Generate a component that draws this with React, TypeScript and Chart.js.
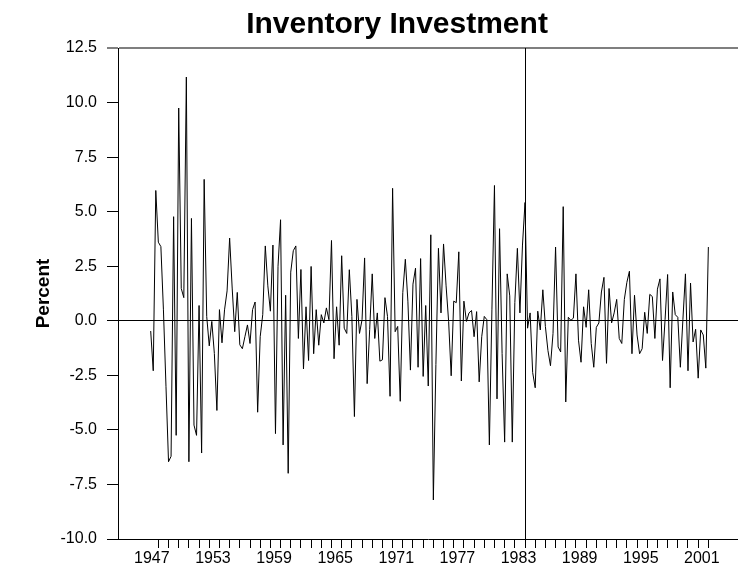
import React, { useEffect, useRef } from "react";
import { Chart, registerables } from "chart.js";

Chart.register(...registerables);

// Quarterly inventory investment (percent), first observation 1947 Q2
const START_YEAR = 1947;
const START_QUARTER = 2;
const inventoryInvestment: number[] = [
  -0.47, -2.29, 5.97, 3.6, 3.4, 0.5, -3.0, -6.46, -6.21, 4.77,
  -5.25, 9.75, 1.48, 1.06, 11.17, -6.46, 4.69, -4.78, -5.25, 0.7,
  -6.06, 6.48, 0.2, -1.15, -0.03, -1.5, -4.11, 0.51, -1.01, 0.5,
  1.37, 3.79, 1.5, -0.5, 1.3, -1.1, -1.28, -0.73, -0.19, -1.04,
  0.51, 0.86, -4.19, -0.73, 0.28, 3.43, 1.6, 0.44, 3.47, -5.17,
  2.5, 4.63, -5.69, 1.17, -6.99, 2.23, 3.21, 3.43, -0.81, 2.35,
  -2.21, 0.64, -1.82, 2.49, -1.51, 0.51, -1.12, 0.28, -0.1, 0.59,
  0.05, 3.68, -1.74, 0.64, -1.12, 2.98, -0.34, -0.58, 2.34, 0.2,
  -4.39, 0.98, -0.58, 0.05, 2.88, -2.88, -0.4, 2.15, -0.81, 0.36,
  -1.85, -1.79, 1.06, 0.2, -3.46, 6.07, -0.5, -0.26, -3.69, 1.29,
  2.82, 0.9, -2.26, 1.68, 2.41, -2.13, 2.85, -2.55, 0.7, -2.99,
  3.94, -8.21, -2.0, 3.32, 0.36, 3.52, 1.6, -0.03, -2.52, 0.9,
  0.83, 3.16, -2.76, 0.9, -0.03, 0.36, 0.47, -0.73, 0.42, -2.8,
  -0.73, 0.2, 0.05, -5.69, 0.5, 6.2, -3.58, 4.22, -1.5, -5.56,
  2.15, 1.14, -5.56, 0.83, 3.32, 0.36, 3.47, 5.42, -0.34, 0.36,
  -2.37, -3.07, 0.44, -0.42, 1.42, -0.26, -1.36, -2.06, -0.58, 3.38,
  -1.2, -1.43, 5.23, -3.72, 0.16, 0.02, 0.12, 2.15, -0.89, -1.9,
  0.64, -0.3, 1.42, -1.04, -2.13, -0.3, -0.1, 1.32, 1.99, -1.95,
  1.48, -0.1, 0.36, 0.98, -0.81, -1.04, 0.98, 1.76, 2.27, -1.51,
  1.17, -0.65, -1.51, -1.28, 0.39, -0.58, 1.21, 1.11, -0.81, 1.45,
  1.92, -1.82, 0.05, 2.12, -3.07, 1.32, 0.28, 0.16, -2.13, 0.05,
  2.15, -2.29, 1.73, -0.97, -0.39, -2.63, -0.42, -0.65, -2.17, 3.38,
];

const yTicks = [-10, -7.5, -5, -2.5, 0, 2.5, 5, 7.5, 10, 12.5];
const yearTickFirst = 1948;
const yearTickLast = 2002;
const labelYears = [1947, 1953, 1959, 1965, 1971, 1977, 1983, 1989, 1995, 2001];
const breakYear = 1984;
const xMin = 1944.04;
const xMax = 2004.91;
const TITLE = "Inventory Investment";
const Y_TITLE = "Percent";

const FONT = '"Liberation Sans", Arial, Helvetica, sans-serif';

export default function App() {
  const ref = useRef<HTMLCanvasElement | null>(null);

  useEffect(() => {
    document.body.style.margin = "0";
    const canvas = ref.current;
    if (!canvas) return;

    const points = inventoryInvestment.map((v, i) => ({
      x: START_YEAR + (START_QUARTER - 1) / 4 + i / 4,
      y: v,
    }));

    const titlePlugin = {
      id: "plotTitle",
      afterDraw(chart: any) {
        const ctx = chart.ctx;
        ctx.save();
        ctx.font = `bold 30px ${FONT}`;
        ctx.fillStyle = "#000";
        ctx.textAlign = "center";
        ctx.textBaseline = "alphabetic";
        ctx.fillText(TITLE, 397, 33);
        ctx.restore();
      },
    };

    const chart = new Chart(canvas, {
      type: "line",
      data: {
        datasets: [
          {
            data: points,
            borderColor: "#000",
            borderWidth: 1,
            pointRadius: 0,
            tension: 0,
            fill: false,
          },
        ],
      },
      options: {
        animation: false,
        responsive: false,
        maintainAspectRatio: false,
        devicePixelRatio: 1,
        layout: { padding: { top: 48, left: 0, right: 0, bottom: 0 } },
        plugins: {
          legend: { display: false },
          title: { display: false },
          tooltip: { enabled: false },
        },
        scales: {
          x: {
            type: "linear",
            min: xMin,
            max: xMax,
            afterBuildTicks: (scale: any) => {
              const t = [];
              for (let y = yearTickFirst; y <= yearTickLast; y++) t.push({ value: y });
              scale.ticks = t;
            },
            afterFit: (scale: any) => {
              scale.height = 31;
            },
            ticks: {
              autoSkip: false,
              maxRotation: 0,
              minRotation: 0,
              labelOffset: -6.5,
              padding: 1,
              color: "#000",
              font: { family: FONT, size: 16 },
              callback: (value: any) =>
                labelYears.includes(Number(value) - 1) ? String(Number(value) - 1) : "",
            },
            grid: {
              drawOnChartArea: true,
              drawTicks: true,
              tickLength: 9,
              tickColor: "#000",
              tickWidth: 1,
              lineWidth: 1,
              color: (c: any) => (c.tick && c.tick.value === breakYear ? "#000" : "rgba(0,0,0,0)"),
            },
            border: { display: true, color: "#000", width: 1 },
          },
          y: {
            type: "linear",
            min: -10,
            max: 12.5,
            afterBuildTicks: (scale: any) => {
              scale.ticks = yTicks.map((v) => ({ value: v }));
            },
            afterFit: (scale: any) => {
              scale.width = 118;
            },
            ticks: {
              padding: 10,
              color: "#000",
              font: { family: FONT, size: 16 },
              callback: (value: any) => Number(value).toFixed(1),
            },
            grid: {
              drawOnChartArea: true,
              drawTicks: true,
              tickLength: 11,
              tickColor: "#000",
              tickWidth: 1,
              lineWidth: (c: any) => (c.tick && c.tick.value === 12.5 ? 2 : 1),
              color: (c: any) => {
                if (!c.tick) return "rgba(0,0,0,0)";
                if (c.tick.value === 0) return "#000";
                if (c.tick.value === 12.5) return "rgba(0,0,0,0.5)";
                return "rgba(0,0,0,0)";
              },
            },
            border: { display: true, color: "#000", width: 1 },
            title: {
              display: true,
              text: Y_TITLE,
              color: "#000",
              font: { family: FONT, size: 19, weight: "bold" },
              padding: { top: 32, bottom: 0 },
            },
          },
        },
      },
      plugins: [titlePlugin],
    } as any);

    return () => {
      chart.destroy();
    };
  }, []);

  return (
    <div style={{ width: 738, height: 570 }}>
      <canvas ref={ref} width={738} height={570} style={{ display: "block" }} />
    </div>
  );
}
